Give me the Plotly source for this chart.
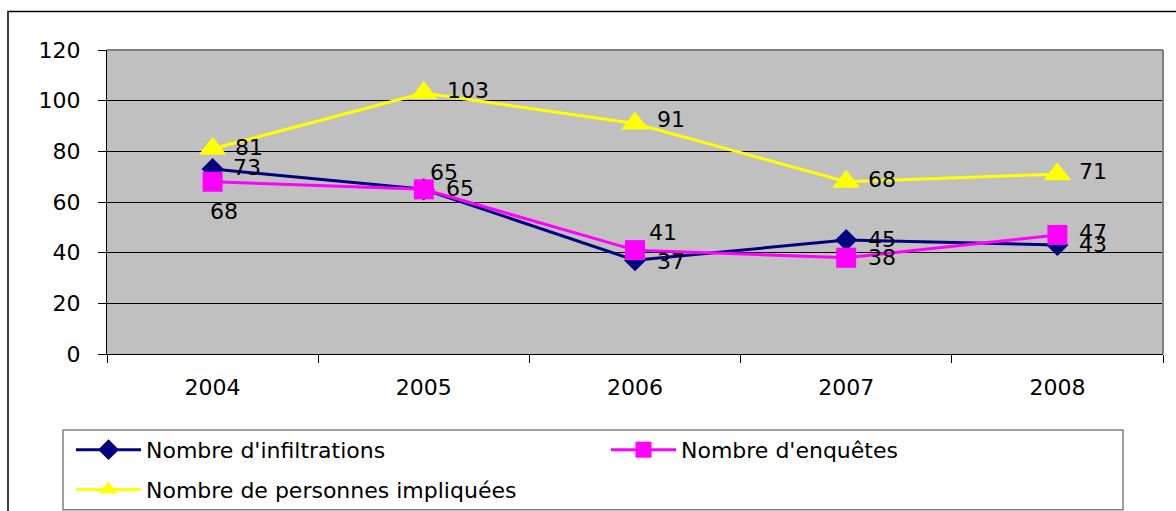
import plotly.graph_objects as go

years = ["2004", "2005", "2006", "2007", "2008"]
infiltrations = [73, 65, 37, 45, 43]
enquetes = [68, 65, 41, 38, 47]
personnes = [81, 103, 91, 68, 71]

names = ["Nombre d'infiltrations", "Nombre d'enquêtes", "Nombre de personnes impliquées"]

# label offsets in pixels (xshift, yshift, xanchor)
off_inf = [(18, 2, "left"), (20, 1, "left"), (20, -1, "left"), (20, 1, "left"), (20, 1, "left")]
off_enq = [(11, -30, "center"), (4, 17, "left"), (12, 18, "left"), (20, 0, "left"), (20, 2, "left")]
off_per = [(20, 1, "left"), (21, 3, "left"), (20, 4, "left"), (20, 2, "left"), (20, 3, "left")]

FONT = "DejaVu Sans, Liberation Sans, Arial, sans-serif"
FS = 22

fig = go.Figure()
fig.add_trace(go.Scatter(x=years, y=infiltrations, name=names[0], mode="lines+markers",
                         line=dict(color="#000080", width=3),
                         marker=dict(symbol="diamond", size=17, color="#000080"),
                         legend="legend"))
fig.add_trace(go.Scatter(x=years, y=enquetes, name=names[1], mode="lines+markers",
                         line=dict(color="#FF00FF", width=3),
                         marker=dict(symbol="square", size=20, color="#FF00FF"),
                         legend="legend"))
fig.add_trace(go.Scatter(x=years, y=personnes, name=names[2], mode="lines+markers",
                         line=dict(color="#FFFF00", width=3),
                         marker=dict(symbol="triangle-up", size=24, color="#FFFF00"),
                         legend="legend2"))

annos = []
for vals, offs in ((infiltrations, off_inf), (enquetes, off_enq), (personnes, off_per)):
    for i, (yv, (dx, dy, xa)) in enumerate(zip(vals, offs)):
        annos.append(dict(x=i, y=yv, xref="x", yref="y", text=str(yv), showarrow=False,
                          xanchor=xa, yanchor="middle", xshift=dx, yshift=dy,
                          font=dict(family=FONT, size=FS, color="black")))

W, H = 1176, 511
L, R, T, B = 107, 13, 49.5, 157
pw, ph = W - L - R, H - T - B

def px(xp):
    return (xp - L) / pw

def py(yp):
    return (H - B - yp) / ph

shapes = [
    # outer chart border
    dict(type="rect", xref="paper", yref="paper", x0=px(8), x1=px(1185), y0=py(11), y1=py(530),
         line=dict(color="black", width=1.5), layer="below"),
    # plot area top/right border
    dict(type="line", xref="paper", yref="paper", x0=0, x1=1, y0=1, y1=1,
         line=dict(color="#808080", width=2), layer="above"),
    dict(type="line", xref="paper", yref="paper", x0=1, x1=1, y0=0, y1=1,
         line=dict(color="#808080", width=2), layer="above"),
    # legend box
    dict(type="rect", xref="paper", yref="paper", x0=px(63), x1=px(1123), y0=py(430), y1=py(510),
         line=dict(color="#808080", width=1.5), fillcolor="white", layer="below"),
]

fig.update_layout(
    width=W, height=H,
    margin=dict(l=L, r=R, t=T, b=B, autoexpand=False),
    paper_bgcolor="white", plot_bgcolor="#C0C0C0",
    font=dict(family=FONT, size=FS, color="black"),
    annotations=annos, shapes=shapes,
    legend=dict(orientation="h", x=px(71), y=py(429), xanchor="left", yanchor="top",
                bgcolor="rgba(0,0,0,0)", borderwidth=0, itemwidth=65,
                entrywidth=455, entrywidthmode="pixels",
                font=dict(family=FONT, size=FS), traceorder="normal"),
    legend2=dict(orientation="h", x=px(71), y=py(469), xanchor="left", yanchor="top",
                 bgcolor="rgba(0,0,0,0)", borderwidth=0, itemwidth=65,
                 font=dict(family=FONT, size=FS)),
    xaxis=dict(type="category", range=[-0.5, 4.5], showgrid=False, tickson="boundaries",
               ticks="outside", ticklen=8, tickcolor="black", showline=True, linecolor="black",
               linewidth=1, ticklabelstandoff=14, tickfont=dict(family=FONT, size=FS)),
    yaxis=dict(range=[0, 120], dtick=20, showgrid=True, gridcolor="black", gridwidth=1,
               ticks="outside", ticklen=8, tickcolor="black", showline=True, linecolor="black",
               linewidth=1, zeroline=False, ticklabelstandoff=13, tickfont=dict(family=FONT, size=FS)),
)

fig.write_html("out.html", config={"displayModeBar": False},
               post_script="document.body.style.margin='0';")
